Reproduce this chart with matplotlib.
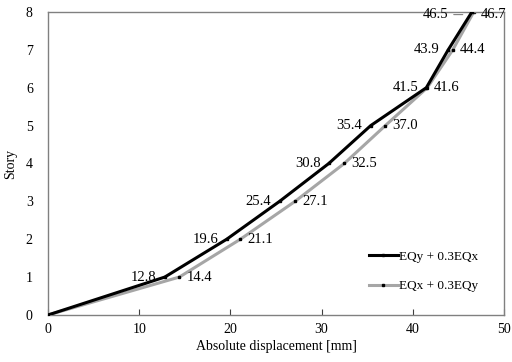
import matplotlib.pyplot as plt

plt.rcParams['font.family'] = ['Liberation Serif', 'DejaVu Serif']

# Valores
stories = [0, 1, 2, 3, 4, 5, 6, 7, 8]
eqy_03eqx = [0, 12.8, 19.6, 25.4, 30.8, 35.4, 41.5, 43.9, 46.5]
eqx_03eqy = [0, 14.4, 21.1, 27.1, 32.5, 37.0, 41.6, 44.4, 46.7]
x_ticks = [0, 10, 20, 30, 40, 50]
y_ticks = [0, 1, 2, 3, 4, 5, 6, 7, 8]

fig = plt.figure(figsize=(5.12, 3.62), dpi=100)
ax = fig.add_axes([0.094, 0.13, 0.89, 0.837])

ax.plot(eqx_03eqy, stories, color='#a6a6a6', lw=2.2, marker='s', ms=2,
        mfc='black', mec='black', label='EQx + 0.3EQy', zorder=2)
ax.plot(eqy_03eqx, stories, color='black', lw=2.2, marker='s', ms=2,
        mfc='black', mec='black', label='EQy + 0.3EQx', zorder=3)

# Rotulos dos valores
for x, y in zip(eqy_03eqx[1:], stories[1:]):
    dy = -1.5 if y == 8 else 0
    dx = -17 if y == 8 else -6
    ax.annotate(f'{x:.1f}', (x, y), xytext=(dx, dy), textcoords='offset points',
                ha='right', va='center', fontsize=10.5)
for x, y in zip(eqx_03eqy[1:], stories[1:]):
    dy = -1.5 if y == 8 else 0
    ax.annotate(f'{x:.1f}', (x, y), xytext=(5, dy), textcoords='offset points',
                ha='left', va='center', fontsize=10.5)
# linha guia do 46.5
ax.annotate('', xy=(eqy_03eqx[-1] - 0.7, 7.93), xytext=(eqy_03eqx[-1] - 2.3, 7.93),
            arrowprops=dict(arrowstyle='-', color='#808080', lw=0.8))

ax.set_xlim(0, 50)
ax.set_ylim(0, 8)
ax.set_xticks(x_ticks)
ax.set_yticks(y_ticks)
ax.tick_params(axis='x', direction='in', length=4, color='#404040', labelsize=10, pad=6)
ax.tick_params(axis='y', length=0, labelsize=10, pad=11)
for s in ax.spines.values():
    s.set_color('#808080')
    s.set_linewidth(1)

ax.set_xlabel('Absolute displacement [mm]', fontsize=10, labelpad=3)
ax.set_ylabel('Story', fontsize=10, labelpad=6)

h, l = ax.get_legend_handles_labels()
ax.legend(h[::-1], l[::-1], loc='lower right', bbox_to_anchor=(0.97, 0.035),
          frameon=False, fontsize=9.5, labelspacing=1.3, handlelength=2.2,
          handletextpad=0.1, markerscale=1)

fig.savefig('out.png', dpi=100)
